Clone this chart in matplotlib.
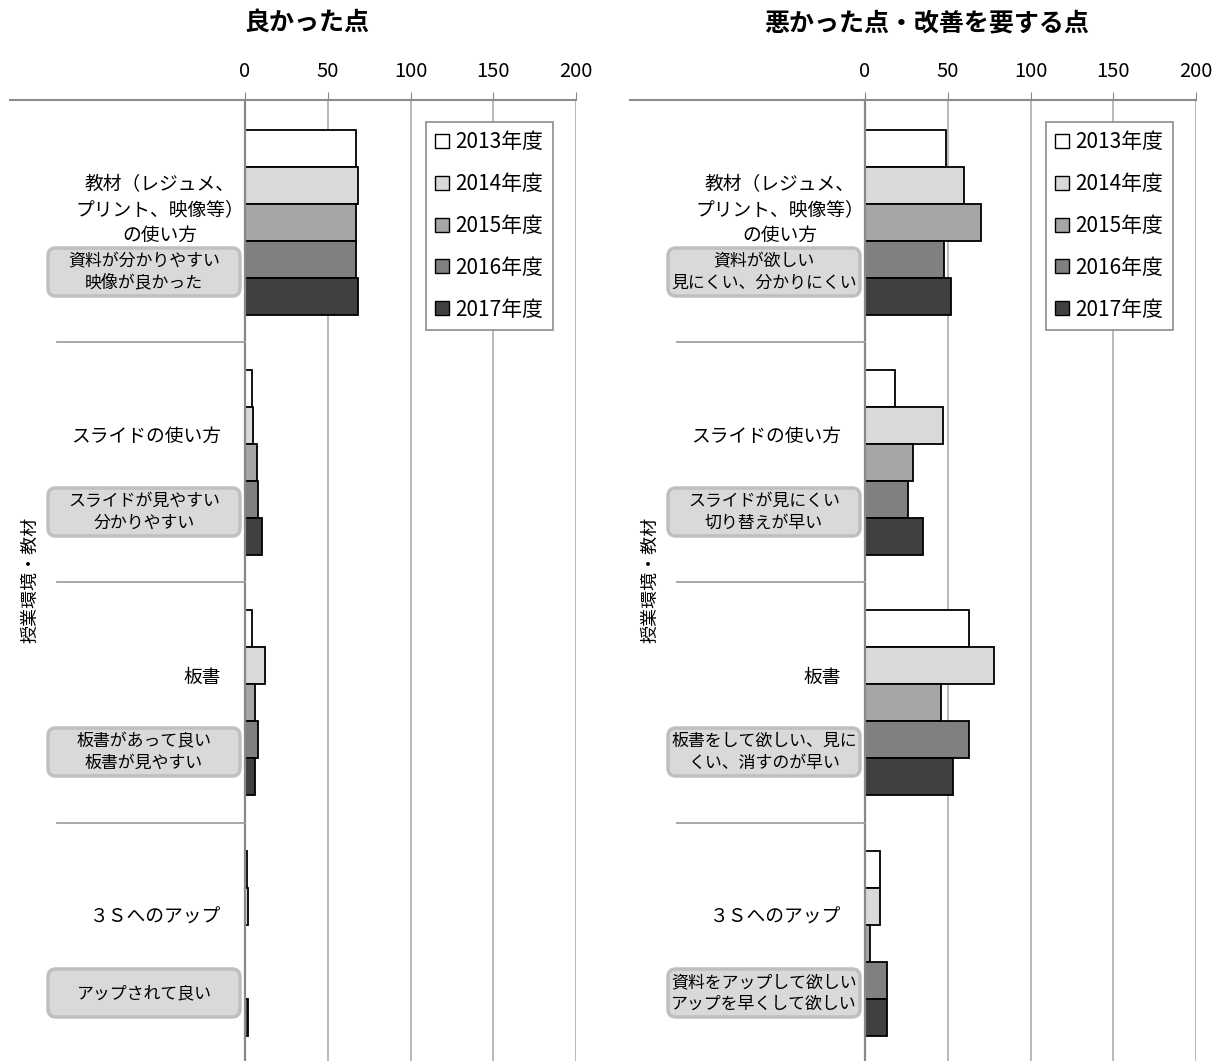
import matplotlib
matplotlib.use("Agg")
import matplotlib.pyplot as plt
from matplotlib.lines import Line2D
from matplotlib.patches import FancyBboxPatch, Patch

plt.rcParams["font.family"] = ["Noto Sans CJK JP", "DejaVu Sans"]

W, H = 1226, 1061

YEARS = ["2013年度", "2014年度", "2015年度", "2016年度", "2017年度"]
COLORS = ["#ffffff", "#d9d9d9", "#a6a6a6", "#808080", "#404040"]
CATEGORIES = ["教材（レジュメ、\nプリント、映像等）\nの使い方", "スライドの使い方", "板書", "３Ｓへのアップ"]
GROUP_LABEL = "授業環境・教材"
TICKS = [0, 50, 100, 150, 200]

# counts per year, in category order
GOOD = {
    "2013年度": [67, 4, 4, 1],
    "2014年度": [68, 5, 12, 2],
    "2015年度": [67, 7, 6, 0],
    "2016年度": [67, 8, 8, 0],
    "2017年度": [68, 10, 6, 2],
}
BAD = {
    "2013年度": [49, 18, 63, 9],
    "2014年度": [60, 47, 78, 9],
    "2015年度": [70, 29, 46, 3],
    "2016年度": [48, 26, 63, 13],
    "2017年度": [52, 35, 53, 13],
}
GOOD_NOTES = ["資料が分かりやすい\n映像が良かった", "スライドが見やすい\n分かりやすい",
              "板書があって良い\n板書が見やすい", "アップされて良い"]
BAD_NOTES = ["資料が欲しい\n見にくい、分かりにくい", "スライドが見にくい\n切り替えが早い",
             "板書をして欲しい、見に\nくい、消すのが早い", "資料をアップして欲しい\nアップを早くして欲しい"]

fig = plt.figure(figsize=(W / 100, H / 100), dpi=100)


def fx(x):
    return x / W


def fy(y):
    return (H - y) / H


def panel(x0, title, data, notes):
    top, bottom = 100, 1061
    ax = fig.add_axes([fx(x0), fy(bottom), 331 / W, (bottom - top) / H])
    cat_px = 240.3
    y_top = -0.5 - 2 / cat_px
    ax.set_ylim(y_top + (bottom - top) / cat_px, y_top)
    ax.set_xlim(0, 200)
    bar_h = 37 / cat_px
    for j, year in enumerate(YEARS):
        pos = [i + (j - 2) * bar_h for i in range(len(CATEGORIES))]
        ax.barh(pos, data[year], height=bar_h, color=COLORS[j], edgecolor="black",
                linewidth=1.3, zorder=3)
    ax.set_yticks([])
    ax.xaxis.tick_top()
    ax.set_xticks(TICKS)
    ax.tick_params(axis="x", direction="out", length=6, color="#888888", labelsize=14.5, pad=7)
    ax.xaxis.grid(True, color="#b3b3b3", linewidth=1.3, zorder=0)
    for s in ["top", "right", "bottom"]:
        ax.spines[s].set_visible(False)
    ax.spines["left"].set_color("#888888")
    ax.spines["left"].set_linewidth(1.6)
    ax.spines["left"].set_zorder(4)

    off = x0 - 245
    # top axis line and category separators
    fig.add_artist(Line2D([fx(10 + off), fx(x0 + 331)], [fy(100)] * 2, color="#8c8c8c", lw=1.5))
    for ys in [342, 582, 823]:
        fig.add_artist(Line2D([fx(57 + off), fx(x0)], [fy(ys)] * 2, color="#a0a0a0", lw=1.3))

    fig.text(fx(off + 307), fy(23), title, ha="center", va="center", fontsize=18, fontweight="bold")

    fig.text(fx(off + 160), fy(210), CATEGORIES[0], ha="center", va="center",
             fontsize=13.5, linespacing=1.28)
    for i, ycen in zip([1, 2, 3], [436, 677, 917]):
        fig.text(fx(off + 221), fy(ycen), CATEGORIES[i], ha="right", va="center", fontsize=13.5)
    fig.text(fx(off + 30), fy(580), GROUP_LABEL, rotation=90, ha="center", va="center", fontsize=13)

    for note, ycen in zip(notes, [272, 512, 752, 993]):
        box = FancyBboxPatch(((off + 48) / 100, (H - ycen - 24) / 100), 1.92, 0.48,
                             boxstyle="round,pad=0,rounding_size=0.08",
                             transform=fig.dpi_scale_trans, facecolor="#d9d9d9",
                             edgecolor="#bfbfbf", linewidth=2.5)
        fig.add_artist(box)
        fig.text(fx(off + 144), fy(ycen), note, ha="center", va="center", fontsize=12.2,
                 linespacing=1.25)

    handles = [Patch(facecolor=c, edgecolor="black", linewidth=1.0) for c in COLORS]
    leg = ax.legend(handles, YEARS, loc="upper left", bbox_to_anchor=((426 - 245) / 331, 1 - 22 / 961),
                    borderaxespad=0, fontsize=15, handlelength=0.65, handleheight=0.65,
                    handletextpad=0.3, labelspacing=0.95, borderpad=0.45, fancybox=False,
                    framealpha=1, edgecolor="#8c8c8c")
    leg.get_frame().set_linewidth(1.2)
    leg.set_zorder(5)
    return ax


panel(245, "良かった点", GOOD, GOOD_NOTES)
panel(865, "悪かった点・改善を要する点", BAD, BAD_NOTES)

fig.savefig("out.png", dpi=100)
